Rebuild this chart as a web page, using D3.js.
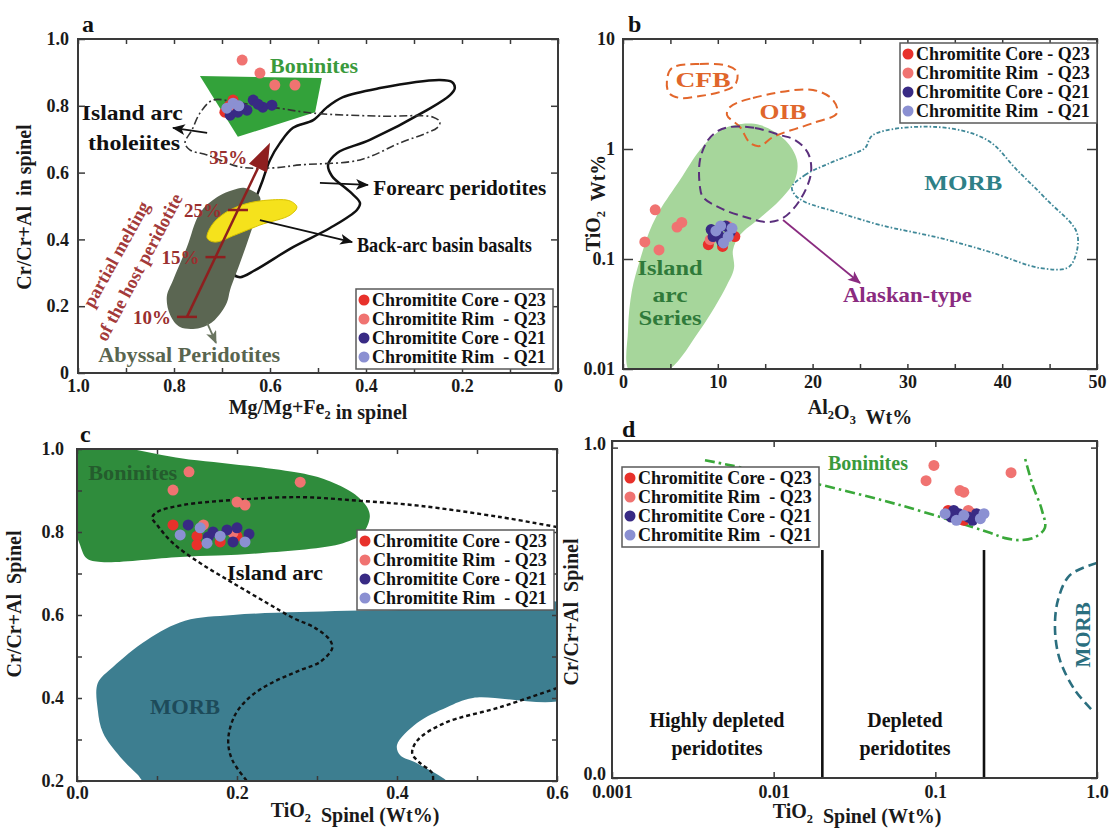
<!DOCTYPE html>
<html>
<head>
<meta charset="utf-8">
<script src="https://cdn.jsdelivr.net/npm/d3@7"></script>
<style>
  body { margin: 0; background: #fff; }
  text { white-space: pre; }
</style>
</head>
<body>
<svg id="chart" width="1110" height="829"></svg>
<script>
// --------------- Series (shared by all four panels) ---------------
const SERIES_NAMES = [
  "Chromitite Core - Q23",
  "Chromitite Rim  - Q23",
  "Chromitite Core - Q21",
  "Chromitite Rim  - Q21",
];
const SERIES_COLORS = ["#e8312b", "#f07371", "#382a84", "#8b90d2"];

// --------------- Panel a : Cr# vs Mg# ---------------
const A_CORE_Q23 = [[0.694, 0.781], [0.677, 0.817], [0.685, 0.8]];
const A_RIM_Q23 = [[0.658, 0.937], [0.621, 0.898], [0.59, 0.862], [0.548, 0.862], [0.68, 0.79]];
const A_CORE_Q21 = [[0.683, 0.772], [0.667, 0.781], [0.648, 0.787], [0.635, 0.817], [0.615, 0.796], [0.596, 0.802], [0.66, 0.795], [0.625, 0.805]];
const A_RIM_Q21 = [[0.69, 0.793], [0.677, 0.808], [0.665, 0.8]];

const A_BONINITES = [[0.746, 0.889], [0.492, 0.883], [0.506, 0.781], [0.667, 0.707]];
const A_IAT = [[0.719, 0.817], [0.6625, 0.808], [0.583, 0.793], [0.51, 0.778], [0.371, 0.769], [0.26, 0.766], [0.246, 0.751], [0.252, 0.734], [0.273, 0.719], [0.329, 0.689], [0.4125, 0.638], [0.5375, 0.623], [0.594, 0.614], [0.6625, 0.617], [0.731, 0.653], [0.767, 0.668], [0.777, 0.689], [0.7625, 0.728], [0.746, 0.778]];
const A_FOREARC = [[0.677, 0.299], [0.6625, 0.398], [0.631, 0.518], [0.615, 0.578], [0.6, 0.638], [0.579, 0.689], [0.552, 0.734], [0.51, 0.757], [0.481, 0.796], [0.448, 0.826], [0.371, 0.853], [0.246, 0.877], [0.221, 0.871], [0.215, 0.853], [0.225, 0.832], [0.273, 0.787], [0.392, 0.698], [0.46, 0.659], [0.479, 0.623], [0.471, 0.59], [0.433, 0.542], [0.4125, 0.509], [0.419, 0.488], [0.475, 0.434], [0.552, 0.377], [0.631, 0.308], [0.6625, 0.287]];
const A_BACKARC = [[0.731, 0.404], [0.721, 0.443], [0.694, 0.479], [0.652, 0.506], [0.6, 0.518], [0.558, 0.515], [0.544, 0.497], [0.558, 0.473], [0.621, 0.443], [0.673, 0.413], [0.715, 0.392]];
const A_ABYSSAL = [[0.677, 0.548], [0.652, 0.554], [0.621, 0.527], [0.625, 0.488], [0.642, 0.413], [0.6625, 0.329], [0.683, 0.249], [0.69, 0.21], [0.715, 0.159], [0.746, 0.135], [0.7875, 0.138], [0.808, 0.174], [0.815, 0.228], [0.802, 0.278], [0.773, 0.377], [0.746, 0.479], [0.71, 0.527]];

const MELT_START = [0.773, 0.168];
const MELT_END = [0.6, 0.689];
const MELT_STEPS = [
  { label: "10%", y: 0.168, tick: true },
  { label: "15%", y: 0.347, tick: true },
  { label: "25%", y: 0.488, tick: true },
  { label: "35%", y: 0.647, tick: false },
];

const A_NOTES = [
  { text: "Boninites", x: 0.6, y: 0.898, w: 88, fill: "#3a9a3c" },
  { text: "Island arc", x: 0.992, y: 0.757, w: 101 },
  { text: "tholeiites", x: 0.979, y: 0.668, w: 92 },
  { text: "Forearc peridotites", x: 0.385, y: 0.533, w: 173 },
  { text: "Back-arc basin basalts", x: 0.419, y: 0.362, w: 175 },
  { text: "Abyssal Peridotites", x: 0.958, y: 0.033, w: 182, fill: "#59654f" },
];
const A_ARROWS = [
  { from: [0.731, 0.719], to: [0.802, 0.734], color: "#111" },
  { from: [0.496, 0.569], to: [0.396, 0.563], color: "#111" },
  { from: [0.621, 0.458], to: [0.429, 0.392], color: "#111" },
  { from: [0.731, 0.15], to: [0.7125, 0.09], color: "#6a7560" },
];

// --------------- Panel b : TiO2 vs Al2O3 ---------------
const B_CORE_Q23 = [[9.0, 0.135], [10.5, 0.13], [11.8, 0.16], [9.6, 0.175]];
const B_RIM_Q23 = [[3.4, 0.28], [5.7, 0.195], [6.2, 0.215], [2.3, 0.143], [3.8, 0.121], [11.0, 0.2], [9.2, 0.15]];
const B_CORE_Q21 = [[9.3, 0.185], [10.1, 0.165], [10.8, 0.2], [9.5, 0.16], [11.3, 0.175], [10.4, 0.145]];
const B_RIM_Q21 = [[10.3, 0.2], [11.1, 0.16], [9.8, 0.18], [11.5, 0.19], [10.6, 0.14]];

const B_ISLAND_ARC = [[0.74, 0.0094], [0.53, 0.0226], [0.95, 0.0523], [1.79, 0.098], [2.85, 0.1835], [3.9, 0.279], [6.01, 0.523], [8.12, 0.98], [10.02, 1.427], [11.81, 1.652], [14.45, 1.652], [17.09, 1.208], [18.35, 0.794], [18.14, 0.523], [16.56, 0.344], [14.45, 0.236], [12.34, 0.165], [11.6, 0.121], [11.71, 0.0828], [10.97, 0.058], [8.12, 0.0226], [4.43, 0.0094]];
const B_ALASKAN = [[11.29, 1.585], [13.92, 1.552], [16.56, 1.34], [18.14, 1.208], [19.51, 0.92], [19.83, 0.605], [18.67, 0.344], [16.88, 0.236], [15.19, 0.217], [12.87, 0.241], [10.23, 0.291], [8.44, 0.366], [8.12, 0.451], [8.12, 0.794], [8.97, 1.208], [10.02, 1.458]];
const B_CFB = [[5.17, 5.45], [8.12, 5.93], [11.08, 5.68], [12.03, 5.01], [11.81, 3.82], [10.23, 3.3], [8.12, 3.03], [6.01, 2.91], [4.85, 3.23], [4.64, 4.24]];
const B_OIB = [[11.29, 2.41], [13.71, 2.91], [20.04, 3.44], [22.15, 2.79], [22.57, 2.12], [20.04, 1.72], [15.82, 1.285], [14.45, 1.064], [13.4, 1.134], [12.34, 1.585], [10.97, 2.04]];
const B_MORB = [[17.83, 0.451], [19.2, 0.58], [21.84, 0.746], [23.95, 0.881], [25.53, 1.021], [26.37, 1.34], [33.12, 1.585], [38.4, 1.208], [41.56, 0.644], [44.73, 0.344], [47.89, 0.172], [47.57, 0.098], [46.84, 0.0828], [43.99, 0.0828], [38.71, 0.1158], [33.44, 0.155], [27.11, 0.204], [22.89, 0.262], [19.2, 0.33], [18.14, 0.382]];

const B_NOTES = [
  { text: "CFB", x: 8.44, y: 3.66, w: 55, anchor: "middle", fill: "#e0662b" },
  { text: "OIB", x: 16.88, y: 1.87, w: 47, anchor: "middle", fill: "#e0662b" },
  { text: "MORB", x: 35.9, y: 0.424, w: 78, anchor: "middle", fill: "#2e8087" },
  { text: "Island", x: 4.96, y: 0.0716, w: 65, anchor: "middle", fill: "#2f7a3a" },
  { text: "arc", x: 4.96, y: 0.0406, w: 35, anchor: "middle", fill: "#2f7a3a" },
  { text: "Series", x: 4.96, y: 0.0251, w: 63, anchor: "middle", fill: "#2f7a3a" },
  { text: "Alaskan-type", x: 23.2, y: 0.0406, w: 129, fill: "#8a2b80" },
];
const B_ARROWS = [{ from: [16.88, 0.226], to: [25.0, 0.0605], color: "#8a2b80" }];

// --------------- Panel c : Cr# vs TiO2 (linear) ---------------
const C_CORE_Q23 = [[0.12, 0.817], [0.15, 0.79], [0.179, 0.776], [0.15, 0.769], [0.2, 0.79]];
const C_RIM_Q23 = [[0.14, 0.945], [0.12, 0.901], [0.2, 0.872], [0.21, 0.865], [0.279, 0.92], [0.158, 0.817], [0.195, 0.798]];
const C_CORE_Q21 = [[0.139, 0.817], [0.164, 0.788], [0.1875, 0.805], [0.195, 0.776], [0.17, 0.8], [0.215, 0.795], [0.2, 0.81]];
const C_RIM_Q21 = [[0.129, 0.793], [0.154, 0.81], [0.1625, 0.773], [0.21, 0.776], [0.179, 0.79]];

const C_BONINITES = [[-0.01, 1.0], [0.14, 0.975], [0.279, 0.942], [0.3125, 0.925], [0.345, 0.894], [0.3625, 0.86], [0.366, 0.836], [0.3575, 0.798], [0.3325, 0.773], [0.229, 0.749], [0.129, 0.74], [0.03, 0.728], [0.012, 0.737], [0.003, 0.773], [-0.01, 0.85]];
const C_MORB = [[0.135, 0.586], [0.195, 0.6], [0.279, 0.607], [0.404, 0.612], [0.62, 0.613], [0.62, 0.407], [0.495, 0.4], [0.4625, 0.378], [0.425, 0.34], [0.4, 0.287], [0.404, 0.262], [0.425, 0.243], [0.465, 0.19], [0.09, 0.19], [0.075, 0.217], [0.054, 0.258], [0.0325, 0.316], [0.026, 0.371], [0.026, 0.436], [0.045, 0.475], [0.0875, 0.54]];
const C_ARC_LINE = [[0.6, 0.812], [0.529, 0.836], [0.429, 0.863], [0.354, 0.875], [0.279, 0.884], [0.195, 0.877], [0.1325, 0.865], [0.1, 0.848], [0.094, 0.834], [0.1, 0.817], [0.12, 0.773], [0.154, 0.725], [0.195, 0.677], [0.2375, 0.629], [0.27, 0.593], [0.2975, 0.569], [0.316, 0.54], [0.319, 0.52], [0.304, 0.487], [0.279, 0.467], [0.241, 0.434], [0.216, 0.402], [0.1975, 0.359], [0.189, 0.299], [0.194, 0.251], [0.2125, 0.2]];
const C_ARC_LINE_2 = [[0.6, 0.424], [0.529, 0.378], [0.46, 0.34], [0.426, 0.299], [0.419, 0.267], [0.429, 0.243], [0.444, 0.219], [0.445, 0.2]];

const C_NOTES = [
  { text: "Boninites", x: 0.014, y: 0.925, w: 89, fill: "#245c2d" },
  { text: "Island arc", x: 0.1875, y: 0.684, w: 96 },
  { text: "MORB", x: 0.135, y: 0.361, w: 70, anchor: "middle", fill: "#1d4b5a" },
];

// --------------- Panel d : Cr# vs TiO2 (log) ---------------
const D_CORE_Q23 = [[0.12, 0.81], [0.15, 0.78], [0.17, 0.8], [0.14, 0.79]];
const D_RIM_Q23 = [[0.098, 0.946], [0.0876, 0.9], [0.142, 0.87], [0.15, 0.865], [0.294, 0.924], [0.16, 0.81]];
const D_CORE_Q21 = [[0.125, 0.79], [0.14, 0.8], [0.16, 0.79], [0.18, 0.8], [0.13, 0.81], [0.17, 0.78]];
const D_RIM_Q21 = [[0.115, 0.8], [0.15, 0.795], [0.19, 0.785], [0.135, 0.78], [0.2, 0.8]];

const D_BONINITE_LINE = [[0.00376, 0.962], [0.01456, 0.902], [0.0604, 0.826], [0.218, 0.742], [0.27, 0.726], [0.334, 0.72], [0.413, 0.729], [0.476, 0.757], [0.456, 0.811], [0.4, 0.887], [0.358, 0.969]];
const D_MORB_LINE = [[1.0, 0.651], [0.68, 0.614], [0.574, 0.539], [0.55, 0.448], [0.59, 0.357], [0.73, 0.266], [0.93, 0.206]];
const D_DEPLETION_BOUNDS = [0.02, 0.2];
const D_BOUND_TOP = 0.69;

const D_NOTES = [
  { text: "Boninites", x: 0.0383, y: 0.932, anchor: "middle", fill: "#3a9a3c", size: 20 },
  { text: "Highly depleted", x: 0.00446, y: 0.154, anchor: "middle", size: 20 },
  { text: "peridotites", x: 0.00446, y: 0.07, anchor: "middle", size: 20 },
  { text: "Depleted", x: 0.0649, y: 0.154, anchor: "middle", size: 20 },
  { text: "peridotites", x: 0.0649, y: 0.07, anchor: "middle", size: 20 },
];
const D_MORB_NOTE = { text: "MORB", x: 0.818, y: 0.433 };

// --------------- Layout ---------------
const FONT = '"Liberation Serif", "Times New Roman", serif';
const FRAME = "#3a3a3a";
const PANEL_A = { left: 78, top: 39, right: 558, bottom: 373 };
const PANEL_B = { left: 623, top: 39, right: 1097, bottom: 369 };
const PANEL_C = { left: 77, top: 449, right: 557, bottom: 781 };
const PANEL_D = { left: 612, top: 441, right: 1097, bottom: 778 };

const svg = d3.select("#chart");
const defs = svg.append("defs");

// --------------- Helpers ---------------
function arrowMarker(id, color) {
  defs
    .append("marker")
    .attr("id", id)
    .attr("viewBox", "0 0 12 10")
    .attr("refX", 11)
    .attr("refY", 5)
    .attr("markerUnits", "userSpaceOnUse")
    .attr("markerWidth", 13)
    .attr("markerHeight", 11)
    .attr("orient", "auto")
    .append("path")
    .attr("d", "M0,0 L12,5 L0,10 L3,5 Z")
    .attr("fill", color);
}
arrowMarker("arr-111", "#111");
arrowMarker("arr-6a7560", "#6a7560");
arrowMarker("arr-8a2b80", "#8a2b80");

function clipGroup(id, p) {
  defs
    .append("clipPath")
    .attr("id", id)
    .append("rect")
    .attr("x", p.left)
    .attr("y", p.top)
    .attr("width", p.right - p.left)
    .attr("height", p.bottom - p.top);
  return svg.append("g").attr("clip-path", `url(#${id})`);
}

function boldText(g, x, y, text, size = 21, fill = "#111", anchor = "start") {
  return g
    .append("text")
    .attr("x", x)
    .attr("y", y)
    .attr("font-family", FONT)
    .attr("font-weight", "bold")
    .attr("font-size", size)
    .attr("fill", fill)
    .attr("text-anchor", anchor)
    .text(text);
}

function drawNotes(g, notes, sx, sy) {
  notes.forEach((n) => {
    const t = boldText(g, sx(n.x), sy(n.y), n.text, n.size || 21, n.fill || "#111", n.anchor || "start");
    if (n.w) t.attr("textLength", n.w).attr("lengthAdjust", "spacingAndGlyphs");
  });
}

function drawArrows(g, arrows, sx, sy) {
  arrows.forEach((a) => {
    g.append("line")
      .attr("x1", sx(a.from[0]))
      .attr("y1", sy(a.from[1]))
      .attr("x2", sx(a.to[0]))
      .attr("y2", sy(a.to[1]))
      .attr("stroke", a.color)
      .attr("stroke-width", 1.8)
      .attr("marker-end", `url(#arr-${a.color.slice(1)})`);
  });
}

function drawPoints(g, groups, sx, sy) {
  groups.forEach((pts, i) => {
    g.append("g")
      .selectAll("circle")
      .data(pts)
      .join("circle")
      .attr("cx", (d) => sx(d[0]))
      .attr("cy", (d) => sy(d[1]))
      .attr("r", 5.5)
      .attr("fill", SERIES_COLORS[i]);
  });
}

function shape(g, pts, sx, sy, curve) {
  const line = d3.line().x((d) => sx(d[0])).y((d) => sy(d[1])).curve(curve);
  return g.append("path").attr("d", line(pts));
}

function addAxis(axis, transform, size = 18) {
  const g = svg.append("g").attr("transform", transform).call(axis);
  g.select(".domain").remove();
  g.selectAll("line").attr("stroke", FRAME).attr("stroke-width", 1.5);
  g.selectAll("text")
    .attr("font-family", FONT)
    .attr("font-weight", "bold")
    .attr("font-size", size)
    .attr("fill", "#1a1a1a");
  return g;
}

function frame(p) {
  svg
    .append("rect")
    .attr("x", p.left)
    .attr("y", p.top)
    .attr("width", p.right - p.left)
    .attr("height", p.bottom - p.top)
    .attr("fill", "none")
    .attr("stroke", FRAME)
    .attr("stroke-width", 2);
}

// parts: [text, isSubscript]
function title(x, y, parts, rotate = false, size = 20) {
  const t = svg
    .append("text")
    .attr("transform", `translate(${x},${y})${rotate ? " rotate(-90)" : ""}`)
    .attr("dy", "0.35em")
    .attr("text-anchor", "middle")
    .attr("font-family", FONT)
    .attr("font-weight", "bold")
    .attr("font-size", size)
    .attr("fill", "#1a1a1a");
  parts.forEach(([s, sub]) => {
    t.append("tspan")
      .attr("dy", sub ? 5 : 0)
      .attr("font-size", sub ? size * 0.62 : size)
      .text(s);
    if (sub) t.append("tspan").attr("dy", -5).text("");
  });
}

function legend(left, top) {
  const g = svg.append("g").attr("transform", `translate(${left},${top})`);
  g.append("rect")
    .attr("width", 197)
    .attr("height", 80)
    .attr("fill", "#fff")
    .attr("stroke", "#5a5a5a")
    .attr("stroke-width", 1.5);
  const row = g
    .selectAll("g.row")
    .data(SERIES_NAMES)
    .join("g")
    .attr("class", "row")
    .attr("transform", (d, i) => `translate(0,${11 + i * 19})`);
  row.append("circle").attr("cx", 8).attr("r", 5.5).attr("fill", (d, i) => SERIES_COLORS[i]);
  row.append("text")
    .attr("x", 16)
    .attr("dy", "0.35em")
    .attr("font-family", FONT)
    .attr("font-weight", "bold")
    .attr("font-size", 18)
    .attr("fill", "#111")
    .text((d) => d);
}

const smooth = d3.curveCatmullRomClosed.alpha(0.5);
const smoothOpen = d3.curveCatmullRom.alpha(0.5);
const fmt1 = (d) => (d === 0 ? "0" : d.toFixed(1));

// --------------- Panel a ---------------
function renderPanelA() {
  const p = PANEL_A;
  const x = d3.scaleLinear().domain([1, 0]).range([p.left, p.right]);
  const y = d3.scaleLinear().domain([0, 1]).range([p.bottom, p.top]);
  const g = clipGroup("clip-a", p);

  shape(g, A_FOREARC, x, y, smooth).attr("fill", "none").attr("stroke", "#111").attr("stroke-width", 2.5);
  shape(g, A_ABYSSAL, x, y, smooth).attr("fill", "#5b6652");
  shape(g, A_BACKARC, x, y, smooth).attr("fill", "#f5e21c").attr("stroke", "#d8c200").attr("stroke-width", 1);
  shape(g, A_BONINITES, x, y, d3.curveLinearClosed).attr("fill", "#33a23a");
  shape(g, A_IAT, x, y, smooth)
    .attr("fill", "none")
    .attr("stroke", "#333")
    .attr("stroke-width", 1.6)
    .attr("stroke-dasharray", "8,3,2,3");

  // partial melting trend
  const MELT = "#8e1f1f";
  const p0 = [x(MELT_START[0]), y(MELT_START[1])];
  const p1 = [x(MELT_END[0]), y(MELT_END[1])];
  const len = Math.hypot(p1[0] - p0[0], p1[1] - p0[1]);
  const u = [(p1[0] - p0[0]) / len, (p1[1] - p0[1]) / len];
  const base = [p1[0] - u[0] * 28, p1[1] - u[1] * 28];
  g.append("line")
    .attr("x1", p0[0]).attr("y1", p0[1])
    .attr("x2", base[0]).attr("y2", base[1])
    .attr("stroke", MELT).attr("stroke-width", 2.5);
  g.append("path")
    .attr("d", `M${p1[0]},${p1[1]} L${base[0] - u[1] * 10},${base[1] + u[0] * 10} L${base[0] + u[1] * 10},${base[1] - u[0] * 10} Z`)
    .attr("fill", MELT);
  const lineX = (v) => MELT_START[0] + ((v - MELT_START[1]) / (MELT_END[1] - MELT_START[1])) * (MELT_END[0] - MELT_START[0]);
  MELT_STEPS.forEach((s) => {
    const cx = x(lineX(s.y));
    if (s.tick) {
      g.append("line")
        .attr("x1", cx - 10).attr("x2", cx + 10)
        .attr("y1", y(s.y)).attr("y2", y(s.y))
        .attr("stroke", MELT).attr("stroke-width", 2.5);
    }
    boldText(g, cx - 16, y(s.y) + 7, s.label, 19, "#9a2f2f", "end");
  });
  boldText(g, 0, 0, "partial melting", 18.5, "#a33a3a", "middle")
    .attr("transform", `translate(${x(0.921)},${y(0.356)}) rotate(-61)`)
    .attr("dy", "0.35em");
  boldText(g, 0, 0, "of the host peridotite", 18.5, "#a33a3a", "middle")
    .attr("transform", `translate(${x(0.873)},${y(0.317)}) rotate(-62)`)
    .attr("dy", "0.35em");

  drawNotes(g, A_NOTES, x, y);
  drawArrows(g, A_ARROWS, x, y);
  drawPoints(g, [A_CORE_Q23, A_RIM_Q23, A_CORE_Q21, A_RIM_Q21], x, y);

  // axes
  const minor = d3.range(0, 1.001, 0.1);
  const major = [1, 0.8, 0.6, 0.4, 0.2, 0];
  addAxis(d3.axisBottom(x).tickValues(minor).tickSize(-5).tickFormat(""), `translate(0,${p.bottom})`);
  addAxis(d3.axisTop(x).tickValues(minor).tickSize(-5).tickFormat(""), `translate(0,${p.top})`);
  addAxis(d3.axisBottom(x).tickValues(major).tickSize(0).tickPadding(6).tickFormat(fmt1), `translate(0,${p.bottom})`);
  addAxis(d3.axisLeft(y).tickValues(major).tickSize(-7).tickPadding(9).tickFormat(fmt1), `translate(${p.left},0)`);
  addAxis(d3.axisRight(y).tickValues(major).tickSize(-7).tickFormat(""), `translate(${p.right},0)`);
  frame(p);
  legend(356, 289);

  boldText(svg, 82, 32, "a", 24);
  title(318, 414, [["Mg/Mg+Fe"], ["2", true], [" in spinel"]]);
  title(31, 207, [["Cr/Cr+Al  in spinel"]], true);
}

// --------------- Panel b ---------------
function renderPanelB() {
  const p = PANEL_B;
  const x = d3.scaleLinear().domain([0, 50]).range([p.left, p.right]);
  const y = d3.scaleLog().domain([0.01, 10]).range([p.bottom, p.top]);
  const g = clipGroup("clip-b", p);

  shape(g, B_ISLAND_ARC, x, y, smooth).attr("fill", "#a6d69b");
  shape(g, B_MORB, x, y, smooth)
    .attr("fill", "none")
    .attr("stroke", "#3f8898")
    .attr("stroke-width", 1.8)
    .attr("stroke-dasharray", "4,2,1.5,2");
  shape(g, B_CFB, x, y, smooth).attr("fill", "none").attr("stroke", "#e2662b").attr("stroke-width", 2).attr("stroke-dasharray", "9,5");
  shape(g, B_OIB, x, y, smooth).attr("fill", "none").attr("stroke", "#e2662b").attr("stroke-width", 2).attr("stroke-dasharray", "9,5");
  shape(g, B_ALASKAN, x, y, smooth).attr("fill", "none").attr("stroke", "#5a2f7c").attr("stroke-width", 2).attr("stroke-dasharray", "9,5");

  drawNotes(g, B_NOTES, x, y);
  drawArrows(g, B_ARROWS, x, y);
  drawPoints(g, [B_CORE_Q23, B_RIM_Q23, B_CORE_Q21, B_RIM_Q21], x, y);

  const minor = d3.range(0, 50.1, 5);
  const decades = [0.01, 0.1, 1, 10];
  addAxis(d3.axisBottom(x).tickValues(minor).tickSize(-5).tickFormat(""), `translate(0,${p.bottom})`);
  addAxis(d3.axisTop(x).tickValues(minor).tickSize(-5).tickFormat(""), `translate(0,${p.top})`);
  addAxis(d3.axisBottom(x).tickValues(d3.range(0, 51, 10)).tickSize(0).tickPadding(6), `translate(0,${p.bottom})`);
  addAxis(d3.axisLeft(y).tickValues(decades).tickSize(-10).tickPadding(8).tickFormat((d) => String(d)), `translate(${p.left},0)`);
  addAxis(d3.axisRight(y).tickValues(decades).tickSize(-10).tickFormat(""), `translate(${p.right},0)`);
  frame(p);
  legend(900, 43);

  boldText(svg, 628, 32, "b", 24);
  title(860, 414, [["Al"], ["2", true], ["O"], ["3", true], ["  Wt%"]]);
  title(600, 203, [["TiO"], ["2", true], ["  Wt%"]], true);
}

// --------------- Panel c ---------------
function renderPanelC() {
  const p = PANEL_C;
  const x = d3.scaleLinear().domain([0, 0.6]).range([p.left, p.right]);
  const y = d3.scaleLinear().domain([0.2, 1]).range([p.bottom, p.top]);
  const g = clipGroup("clip-c", p);

  shape(g, C_BONINITES, x, y, smooth).attr("fill", "#2f8c3c");
  shape(g, C_MORB, x, y, smooth).attr("fill", "#3d7e90");
  [C_ARC_LINE, C_ARC_LINE_2].forEach((l) =>
    shape(g, l, x, y, smoothOpen)
      .attr("fill", "none")
      .attr("stroke", "#111")
      .attr("stroke-width", 2.4)
      .attr("stroke-dasharray", "4,3")
  );

  drawNotes(g, C_NOTES, x, y);
  drawPoints(g, [C_CORE_Q23, C_RIM_Q23, C_CORE_Q21, C_RIM_Q21], x, y);

  const xMinor = d3.range(0, 0.601, 0.1);
  const yMinor = d3.range(0.2, 1.001, 0.1);
  addAxis(d3.axisBottom(x).tickValues(xMinor).tickSize(-5).tickFormat(""), `translate(0,${p.bottom})`);
  addAxis(d3.axisTop(x).tickValues(xMinor).tickSize(-5).tickFormat(""), `translate(0,${p.top})`);
  addAxis(d3.axisBottom(x).tickValues([0, 0.2, 0.4, 0.6]).tickSize(0).tickPadding(5).tickFormat((d) => d.toFixed(1)), `translate(0,${p.bottom})`);
  addAxis(d3.axisLeft(y).tickValues(yMinor).tickSize(-5).tickFormat(""), `translate(${p.left},0)`);
  addAxis(d3.axisRight(y).tickValues(yMinor).tickSize(-5).tickFormat(""), `translate(${p.right},0)`);
  addAxis(d3.axisLeft(y).tickValues([0.2, 0.4, 0.6, 0.8, 1.0]).tickSize(0).tickPadding(13).tickFormat((d) => d.toFixed(1)), `translate(${p.left},0)`);
  frame(p);
  legend(357, 530);

  boldText(svg, 80, 442, "c", 24);
  title(355, 817, [["TiO"], ["2", true], ["  Spinel (Wt%)"]]);
  title(21, 604, [["Cr/Cr+Al  Spinel"]], true);
}

// --------------- Panel d ---------------
function renderPanelD() {
  const p = PANEL_D;
  const x = d3.scaleLog().domain([0.001, 1]).range([p.left, p.right]);
  const y = d3.scaleLinear().domain([0, 1.02]).range([p.bottom, p.top]);
  const g = clipGroup("clip-d", p);

  shape(g, D_BONINITE_LINE, x, y, smoothOpen)
    .attr("fill", "none")
    .attr("stroke", "#3aa83a")
    .attr("stroke-width", 2.6)
    .attr("stroke-dasharray", "10,4,2.5,4");
  shape(g, D_MORB_LINE, x, y, smoothOpen)
    .attr("fill", "none")
    .attr("stroke", "#2b6f7f")
    .attr("stroke-width", 2.6)
    .attr("stroke-dasharray", "9,5");
  g.selectAll("line.bound")
    .data(D_DEPLETION_BOUNDS)
    .join("line")
    .attr("class", "bound")
    .attr("x1", (d) => x(d))
    .attr("x2", (d) => x(d))
    .attr("y1", y(0))
    .attr("y2", y(D_BOUND_TOP))
    .attr("stroke", "#111")
    .attr("stroke-width", 2.6);

  drawNotes(g, D_NOTES, x, y);
  boldText(g, 0, 0, D_MORB_NOTE.text, 21, "#2b6f7f", "middle")
    .attr("transform", `translate(${x(D_MORB_NOTE.x)},${y(D_MORB_NOTE.y)}) rotate(-90)`)
    .attr("dy", "0.35em");
  drawPoints(g, [D_CORE_Q23, D_RIM_Q23, D_CORE_Q21, D_RIM_Q21], x, y);

  const decades = [0.001, 0.01, 0.1, 1];
  addAxis(d3.axisBottom(x).tickValues(decades).tickSize(-6).tickPadding(7).tickFormat((d) => (d === 1 ? "1.0" : String(d))), `translate(0,${p.bottom})`);
  addAxis(d3.axisTop(x).tickValues(decades).tickSize(-6).tickFormat(""), `translate(0,${p.top})`);
  addAxis(d3.axisLeft(y).tickValues([0, 1]).tickSize(-6).tickPadding(6).tickFormat((d) => d.toFixed(1)), `translate(${p.left},0)`)
    .selectAll("text")
    .attr("dy", "0.1em");
  addAxis(d3.axisRight(y).tickValues([0, 1]).tickSize(-6).tickFormat(""), `translate(${p.right},0)`);
  frame(p);
  legend(622, 467);

  boldText(svg, 622, 437, "d", 24);
  title(857, 818, [["TiO"], ["2", true], ["  Spinel (Wt%)"]]);
  title(578, 612, [["Cr/Cr+Al  Spinel"]], true);
}

renderPanelA();
renderPanelB();
renderPanelC();
renderPanelD();
</script>
</body>
</html>
